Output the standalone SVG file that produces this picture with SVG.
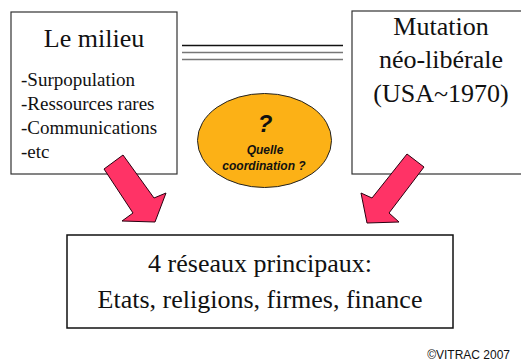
<svg xmlns="http://www.w3.org/2000/svg" width="521" height="361" viewBox="0 0 521 361">
<style>
.box{fill:#fff;stroke:#333;stroke-width:1.2}
.big{font-family:'Liberation Serif','Times New Roman',serif;font-size:26px;fill:#111;text-anchor:middle}
.list{font-family:'Liberation Serif','Times New Roman',serif;font-size:19px;fill:#111}
.ell{font-family:'Liberation Sans',Arial,sans-serif;font-weight:bold;font-style:italic;fill:#111;text-anchor:middle}
.arrow{fill:#FF3366;stroke:#2a0010;stroke-width:1}
</style>
<rect width="521" height="361" fill="#fff"/>
<g id="milieu">
<rect class="box" x="11" y="12" width="166" height="162"/>
<text class="big" x="94" y="47">Le milieu</text>
<text class="list" x="21" y="86">-Surpopulation</text>
<text class="list" x="21" y="110">-Ressources rares</text>
<text class="list" x="21" y="134">-Communications</text>
<text class="list" x="21" y="158">-etc</text>
</g>
<g id="mutation">
<rect class="box" x="352" y="11" width="180" height="163"/>
<text class="big" x="441" y="35">Mutation</text>
<text class="big" x="441" y="68">néo-libérale</text>
<text class="big" x="441" y="102">(USA~1970)</text>
</g>
<g id="coordination">
<ellipse cx="264.5" cy="140.5" rx="67" ry="47" fill="#FCB116" stroke="#222" stroke-width="1"/>
<text class="ell" x="265" y="132" font-size="24">?</text>
<text class="ell" x="265" y="154" font-size="12">Quelle</text>
<text class="ell" x="264" y="170" font-size="12">coordination ?</text>
</g>
<g id="reseaux">
<rect x="67" y="235" width="386" height="93" fill="#fff" stroke="#111" stroke-width="1.5"/>
<text class="big" x="260" y="272">4 réseaux principaux:</text>
<text class="big" x="260" y="308">Etats, religions, firmes, finance</text>
</g>
<g id="connectors">
<line x1="182" y1="45.5" x2="343" y2="45.5" stroke="#111" stroke-width="1.5"/>
<line x1="182" y1="52.5" x2="343" y2="52.5" stroke="#777" stroke-width="1.5"/>
<line x1="182" y1="59.5" x2="343" y2="59.5" stroke="#777" stroke-width="1.5"/>
<polygon class="arrow" points="104,169 123,155 154,198 166,193 155,222 122,221 133,213"/>
<polygon class="arrow" points="407,154 424,167 389,213 399,222 367,223 361,193 372,198"/>
</g>
<text x="510" y="359" font-family="'Liberation Sans',Arial,sans-serif" font-size="12" fill="#111" text-anchor="end">©VITRAC 2007</text>
</svg>
